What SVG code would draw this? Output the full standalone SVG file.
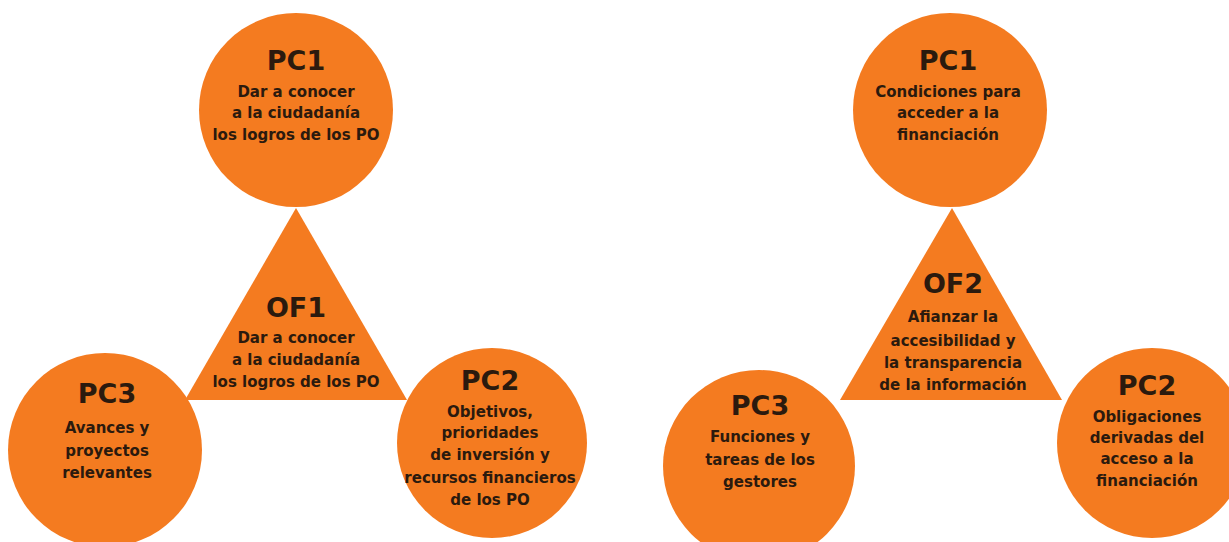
<svg xmlns="http://www.w3.org/2000/svg" width="1229" height="542" viewBox="0 0 1229 542">
<style>
.shape{fill:#F47B20}
.t{font-family:"DejaVu Sans","Liberation Sans",sans-serif;font-weight:bold;fill:#2B1A0E;text-anchor:middle}
.h{font-size:27px}
.s{font-size:15px}
</style>
<rect width="1229" height="542" fill="#FFFFFF"/>
<g id="OF1">
<polygon class="shape" points="296,208 185,400 407,400"/>
<text class="t h" x="296" y="317">OF1</text>
<text class="t s" x="296" y="343">Dar a conocer</text>
<text class="t s" x="296" y="365">a la ciudadanía</text>
<text class="t s" x="296" y="387">los logros de los PO</text>
</g>
<g id="PC1-left">
<circle class="shape" cx="296" cy="110" r="97"/>
<text class="t h" x="296" y="70">PC1</text>
<text class="t s" x="296" y="97">Dar a conocer</text>
<text class="t s" x="296" y="118">a la ciudadanía</text>
<text class="t s" x="296" y="140">los logros de los PO</text>
</g>
<g id="PC3-left">
<circle class="shape" cx="105" cy="450" r="97"/>
<text class="t h" x="107" y="403">PC3</text>
<text class="t s" x="107" y="433">Avances y</text>
<text class="t s" x="107" y="456">proyectos</text>
<text class="t s" x="107" y="478">relevantes</text>
</g>
<g id="PC2-left">
<circle class="shape" cx="492" cy="443" r="95"/>
<text class="t h" x="490" y="390">PC2</text>
<text class="t s" x="490" y="417">Objetivos,</text>
<text class="t s" x="490" y="438">prioridades</text>
<text class="t s" x="490" y="460">de inversión y</text>
<text class="t s" x="490" y="483">recursos financieros</text>
<text class="t s" x="490" y="505">de los PO</text>
</g>
<g id="OF2">
<polygon class="shape" points="952,208 840,400 1062,400"/>
<text class="t h" x="953" y="293">OF2</text>
<text class="t s" x="953" y="322">Afianzar la</text>
<text class="t s" x="953" y="346">accesibilidad y</text>
<text class="t s" x="953" y="368">la transparencia</text>
<text class="t s" x="953" y="390">de la información</text>
</g>
<g id="PC1-right">
<circle class="shape" cx="950" cy="110" r="97"/>
<text class="t h" x="948" y="70">PC1</text>
<text class="t s" x="948" y="97">Condiciones para</text>
<text class="t s" x="948" y="118">acceder a la</text>
<text class="t s" x="948" y="140">financiación</text>
</g>
<g id="PC3-right">
<circle class="shape" cx="759" cy="466" r="96"/>
<text class="t h" x="760" y="415">PC3</text>
<text class="t s" x="760" y="442">Funciones y</text>
<text class="t s" x="760" y="465">tareas de los</text>
<text class="t s" x="760" y="487">gestores</text>
</g>
<g id="PC2-right">
<circle class="shape" cx="1152" cy="443" r="95"/>
<text class="t h" x="1147" y="395">PC2</text>
<text class="t s" x="1147" y="422">Obligaciones</text>
<text class="t s" x="1147" y="443">derivadas del</text>
<text class="t s" x="1147" y="464">acceso a la</text>
<text class="t s" x="1147" y="486">financiación</text>
</g>
</svg>
